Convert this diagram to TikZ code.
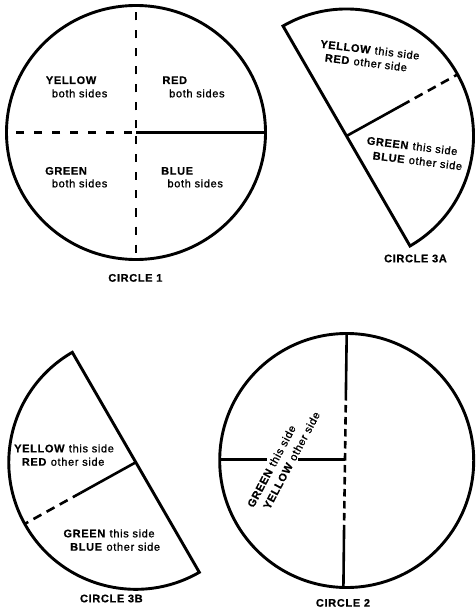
\documentclass[tikz,border=0pt]{standalone}
\usepackage{fontspec}
\setmainfont{Liberation Sans}
\newfontfamily\labfont{Liberation Sans}[LetterSpace=6, UprightFeatures={FakeBold=1.2}, BoldFeatures={FakeBold=0.6}]
\usetikzlibrary{calc}
\begin{document}
\begin{tikzpicture}[x=1pt,y=1pt,
  outline/.style={line width=2.9pt, line join=miter},
  divider/.style={line width=2.6pt},
  dashA/.style={divider, dash pattern=on 8pt off 10pt},
  dashB/.style={divider, dash pattern=on 9pt off 6pt},
  dashC/.style={divider, dash pattern=on 7.5pt off 4.5pt},
  lbl/.style={inner sep=0pt, font=\labfont\fontsize{11}{14}\selectfont, text height=8pt, text depth=0pt},
  lw/.style={lbl, anchor=west},
]
\useasboundingbox (0,0) rectangle (475,-612);

% ---------- CIRCLE 1 ----------
\coordinate (c1) at (136,-132.5);
\coordinate (c1t) at (136,-5.5);
\coordinate (c1b) at (136,-259.5);
\coordinate (c1l) at (6.5,-132.5);
\coordinate (c1r) at (265.5,-132.5);
\draw[outline] (c1) ellipse [x radius=129.5, y radius=127];
\draw[dashA, dash phase=-4pt] (c1) -- (c1t);
\draw[dashA, dash phase=-4pt] (c1) -- (c1b);
\draw[dashA, dash phase=-4pt] (c1) -- (c1l);
\draw[divider] (c1) -- (c1r);
\node[lw] (y1) at (45.7,-80) {\textbf{YELLOW}};
\node[lw] (y1b) at (51.7,-93.3) {both sides};
\node[lw] (r1) at (162.3,-80) {\textbf{RED}};
\node[lw] (r1b) at (169,-93.3) {both sides};
\node[lw] (g1) at (45,-170.7) {\textbf{GREEN}};
\node[lw] (g1b) at (51.7,-183.3) {both sides};
\node[lw] (b1) at (161,-170.7) {\textbf{BLUE}};
\node[lw] (b1b) at (167.3,-183.3) {both sides};
\node[lbl] (t1) at (135.7,-277.7) {\textbf{CIRCLE 1}};

% ---------- CIRCLE 3A ----------
\coordinate (c3a) at (346.5,-136);
\draw[outline] ($(c3a)+(120:127)$) arc[start angle=120, end angle=-60, radius=127] -- cycle;
\coordinate (c3am) at ($(c3a)+(29:63)$);
\coordinate (c3ae) at ($(c3a)+(29:126)$);
\draw[divider] (c3a) -- (c3am);
\draw[dashB] (c3am) -- (c3ae);
\node[lbl, rotate=-7] (y3a) at (370,-49.7) {\textbf{YELLOW} this side};
\node[lbl, rotate=-7] (r3a) at (366,-62.5) {\textbf{RED} other side};
\node[lbl, rotate=-7] (g3a) at (412.2,-145.8) {\textbf{GREEN} this side};
\node[lbl, rotate=-7] (b3a) at (417.5,-160.8) {\textbf{BLUE} other side};
\node[lbl] (t3a) at (415.8,-258.3) {\textbf{CIRCLE 3A}};

% ---------- CIRCLE 3B ----------
\coordinate (c3b) at (135.8,-462.3);
\draw[outline] ($(c3b)+(120:127)$) arc[start angle=120, end angle=300, radius=127] -- cycle;
\coordinate (c3bm) at ($(c3b)+(209:63)$);
\coordinate (c3be) at ($(c3b)+(209:126)$);
\draw[divider] (c3b) -- (c3bm);
\draw[dashB] (c3bm) -- (c3be);
\node[lw] (y3b) at (14,-448.3) {\textbf{YELLOW} this side};
\node[lw] (r3b) at (21.7,-461.7) {\textbf{RED} other side};
\node[lw] (g3b) at (63.3,-533.3) {\textbf{GREEN} this side};
\node[lw] (b3b) at (70,-546.7) {\textbf{BLUE} other side};
\node[lbl] (t3b) at (111.7,-598.3) {\textbf{CIRCLE 3B}};

% ---------- CIRCLE 2 ----------
\coordinate (c2) at (346.7,-460.5);
\draw[outline] (c2) circle [radius=127];
\coordinate (v0) at (346.7,-333.5);
\coordinate (v1) at (345.9,-393);
\coordinate (vc) at (345.0,-459.3);
\coordinate (v2) at (344.1,-525);
\coordinate (v3) at (343.4,-587.5);
\draw[divider] (v0) -- (v1);
\draw[dashC] (v1) -- (v2);
\draw[divider] (v2) -- (v3);
\coordinate (h0) at (220,-459.3);
\coordinate (h1) at (266.7,-459.3);
\coordinate (h2) at (298,-459.3);
\draw[divider] (h0) -- (h1);
\draw[divider] (h2) -- (vc);
\node[lbl, rotate=62, align=left, text height=, text depth=, anchor=center,
      font=\labfont\fontsize{11}{15}\selectfont] (g2) at (283.5,-459.5)
  {\textbf{GREEN} this side\\\hspace*{6pt}\textbf{YELLOW} other side};
\node[lbl] (t2) at (343.3,-602.7) {\textbf{CIRCLE 2}};
\end{tikzpicture}
\end{document}
